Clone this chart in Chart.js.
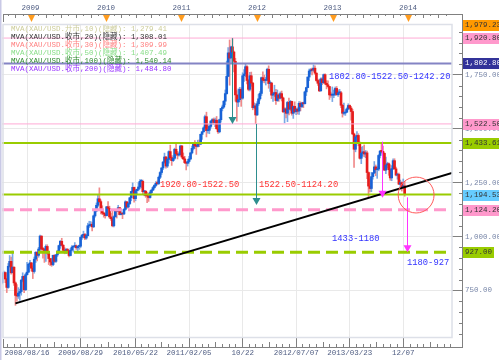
<!DOCTYPE html>
<html>
<head>
<meta charset="utf-8">
<script src="https://cdn.jsdelivr.net/npm/chart.js@4.4.0/dist/chart.umd.min.js"></script>
<style>
  html, body { margin: 0; padding: 0; background: #fff; }
  canvas { display: block; }
</style>
</head>
<body>
<canvas id="grafico" width="499" height="360"></canvas>
<script>
// XAU/USD weekly candles, bar 0 = week of 2008/08/16
var firstOpen = 786;
var closes = [
  828, 833, 803, 764, 862, 885, 832, 858, 785, 727, 724, 738, 745, 798, 815, 753, 823, 835, 872, 878,
  853, 838, 895, 927, 913, 942, 1002, 942, 940, 930, 954, 924, 898, 882, 870, 913, 885, 915, 928, 958, 978, 960, 936, 931, 940, 931, 912, 937, 951, 954, 957, 948, 954, 955, 996, 1006, 1009, 993, 1004, 1050, 1050, 1057, 1045, 1096, 1119, 1145, 1175, 1162, 1121, 1109, 1104, 1097,
  1138, 1131, 1091, 1083, 1050, 1092, 1119, 1118, 1134, 1102, 1107, 1105, 1126, 1161, 1137, 1153, 1180, 1209, 1228, 1176, 1213, 1219, 1230, 1256, 1256, 1208, 1210, 1190, 1188, 1181, 1204, 1215, 1227, 1237, 1247, 1246, 1275, 1297, 1318, 1345, 1369, 1327, 1358, 1394, 1366, 1352, 1363, 1405, 1384, 1378, 1380, 1420,
  1369, 1360, 1343, 1340, 1348, 1360, 1388, 1409, 1429, 1421, 1418, 1437, 1429, 1474, 1486, 1504, 1556, 1491, 1493, 1511, 1536, 1542, 1529, 1540, 1500, 1486, 1542, 1594, 1601, 1628, 1663, 1743, 1852, 1828, 1880, 1856, 1813, 1657, 1624, 1635, 1683, 1642, 1746, 1754, 1788, 1724, 1683, 1746, 1712, 1598, 1606, 1564,
  1616, 1639, 1664, 1737, 1725, 1724, 1725, 1776, 1710, 1712, 1656, 1662, 1668, 1631, 1657, 1642, 1663, 1643, 1579, 1592, 1572, 1622, 1591, 1627, 1572, 1604, 1579, 1591, 1582, 1618, 1603, 1620, 1616, 1671, 1691, 1740, 1768, 1773, 1772, 1781, 1758, 1724, 1711, 1676, 1731, 1714, 1751, 1711, 1704, 1696, 1657, 1656,
  1656, 1661, 1687, 1658, 1667, 1667, 1609, 1572, 1573, 1577, 1592, 1608, 1596, 1580, 1476, 1405, 1462, 1469, 1435, 1363, 1387, 1393, 1383, 1388, 1297, 1234, 1223, 1278, 1295, 1323, 1310, 1313, 1376, 1396, 1395, 1386, 1308, 1332, 1338, 1310, 1272, 1315, 1352, 1314, 1285, 1288, 1243, 1250, 1231, 1235, 1194.53
];
var highs = [
  835, 840, 836, 806, 875, 912, 905, 933, 860, 790, 777, 763, 756, 800, 832, 818, 830, 880, 874, 890,
  880, 864, 905, 930, 929, 950, 1007, 1004, 950, 945, 962, 962, 929, 898, 898, 914, 916, 917, 936, 960, 982, 992, 962, 948, 945, 945, 935, 945, 958, 955, 972, 961, 955, 960, 1000, 1010, 1025, 1015, 1010, 1062, 1071, 1070, 1066, 1100, 1119, 1156, 1196, 1226, 1170, 1143, 1113, 1110,
  1140, 1162, 1141, 1108, 1120, 1096, 1125, 1122, 1145, 1135, 1129, 1110, 1130, 1166, 1162, 1158, 1181, 1210, 1249, 1230, 1218, 1220, 1250, 1264, 1265, 1262, 1213, 1214, 1206, 1200, 1212, 1219, 1232, 1241, 1255, 1258, 1281, 1301, 1320, 1349, 1387, 1372, 1365, 1398, 1424, 1375, 1375, 1410, 1432, 1395, 1392, 1424,
  1423, 1388, 1372, 1345, 1358, 1372, 1390, 1420, 1437, 1445, 1435, 1447, 1448, 1476, 1487, 1509, 1564, 1577, 1522, 1515, 1538, 1547, 1550, 1549, 1557, 1510, 1545, 1595, 1610, 1630, 1680, 1814, 1877, 1912, 1884, 1920, 1860, 1827, 1677, 1685, 1692, 1690, 1760, 1774, 1802, 1793, 1730, 1762, 1763, 1715, 1620, 1616,
  1626, 1660, 1673, 1740, 1764, 1749, 1738, 1781, 1792, 1722, 1716, 1670, 1702, 1683, 1680, 1663, 1671, 1675, 1647, 1597, 1597, 1627, 1642, 1632, 1628, 1606, 1625, 1596, 1597, 1626, 1625, 1623, 1624, 1675, 1693, 1740, 1777, 1779, 1781, 1796, 1792, 1760, 1730, 1728, 1736, 1737, 1754, 1755, 1723, 1722, 1697, 1670,
  1694, 1680, 1694, 1696, 1681, 1683, 1674, 1613, 1619, 1588, 1597, 1616, 1611, 1604, 1590, 1480, 1469, 1487, 1477, 1439, 1415, 1418, 1425, 1399, 1397, 1300, 1267, 1298, 1298, 1348, 1332, 1324, 1380, 1400, 1434, 1420, 1389, 1369, 1345, 1342, 1333, 1329, 1361, 1361, 1322, 1294, 1294, 1262, 1254, 1267, 1256
];
var lows = [
  780, 816, 786, 740, 760, 858, 826, 832, 773, 681, 700, 713, 704, 728, 790, 740, 750, 821, 832, 860,
  840, 805, 830, 880, 887, 904, 935, 936, 900, 880, 885, 917, 870, 865, 862, 865, 880, 880, 908, 922, 945, 955, 931, 920, 920, 925, 905, 910, 935, 928, 950, 940, 933, 940, 948, 987, 995, 985, 987, 1003, 1042, 1047, 1026, 1042, 1090, 1115, 1138, 1158, 1105, 1102, 1090, 1085,
  1095, 1124, 1085, 1075, 1045, 1045, 1090, 1086, 1117, 1100, 1100, 1083, 1102, 1122, 1131, 1133, 1148, 1166, 1198, 1160, 1166, 1196, 1212, 1221, 1226, 1198, 1189, 1182, 1157, 1163, 1178, 1192, 1214, 1220, 1232, 1240, 1241, 1269, 1288, 1310, 1340, 1317, 1320, 1340, 1355, 1330, 1348, 1358, 1375, 1360, 1373, 1377,
  1363, 1357, 1338, 1309, 1327, 1340, 1356, 1383, 1402, 1408, 1381, 1415, 1417, 1426, 1451, 1484, 1500, 1462, 1479, 1477, 1503, 1521, 1520, 1510, 1498, 1478, 1481, 1531, 1583, 1596, 1611, 1660, 1742, 1702, 1805, 1812, 1764, 1628, 1535, 1603, 1625, 1604, 1637, 1720, 1741, 1708, 1676, 1675, 1697, 1588, 1594, 1523,
  1562, 1608, 1633, 1654, 1715, 1713, 1703, 1724, 1688, 1673, 1640, 1627, 1650, 1613, 1627, 1627, 1638, 1629, 1575, 1527, 1550, 1533, 1564, 1585, 1563, 1548, 1573, 1565, 1568, 1567, 1583, 1598, 1598, 1615, 1654, 1690, 1723, 1753, 1750, 1766, 1752, 1720, 1701, 1672, 1674, 1705, 1710, 1704, 1685, 1692, 1636, 1645,
  1626, 1644, 1654, 1655, 1650, 1660, 1598, 1554, 1564, 1562, 1575, 1588, 1590, 1540, 1473, 1321, 1393, 1441, 1421, 1359, 1338, 1373, 1370, 1366, 1268, 1180, 1207, 1208, 1266, 1292, 1282, 1270, 1305, 1365, 1390, 1376, 1306, 1292, 1318, 1284, 1261, 1259, 1310, 1312, 1281, 1266, 1241, 1221, 1211, 1225, 1187
];

// axis labels
var xTickWeeks = [17, 54, 92, 129, 166, 203, 240, 277];
var xTickLabels = ['2008/08/16', '2009/08/29', '2010/05/22', '2011/02/05', '10/22', '2012/07/07', '2013/03/23', '12/07'];
var yearLabels = ['2009', '2010', '2011', '2012', '2013', '2014'];
var yTicks = [750, 1000, 1250, 1500, 1750];

// drawn levels and notes
var levelPrice = [1920.80, 1802.80, 1522.50, 1433.61, 1194.53, 1124.20, 927.00];
var tagPrice = [1979.23, 1920.80, 1802.80, 1522.50, 1433.61, 1194.53, 1124.20, 927.00];
var trendWeek = [9, 310.7];
var trendPrice = [690, 1295];
var arrowWeek = [159, 175, 262, 279.6];
var arrowFrom = [1920, 1522.5, 1440, 1182];
var arrowTo = [1522.5, 1146, 1180, 927];
var ringWeek = 285.9, ringPrice = 1192.6, ringRadius = 12.4;
var noteText = ['1920.80-1522.50', '1522.50-1124.20', '1802.80-1522.50-1242.20', '1433-1180', '1180-927'];
var noteWeek = [108.9, 177.3, 225.7, 227.8, 279.6];
var notePrice = [1239, 1239, 1740, 988, 877];
var maLabels = [
  'MVA(XAU/USD.开市,10)(隐藏): 1,279.41',
  'MVA(XAU/USD.收市,20)(隐藏): 1,308.01',
  'MVA(XAU/USD.收市,30)(隐藏): 1,309.99',
  'MVA(XAU/USD.收市,50)(隐藏): 1,407.49',
  'MVA(XAU/USD.收市,100)(隐藏): 1,540.14',
  'MVA(XAU/USD.收市,200)(隐藏): 1,484.80'
];

// styles
var mono = '"Liberation Mono", "DejaVu Sans Mono", "Noto Sans CJK SC", monospace';
var levelColor = ['#ffaad5', '#8484c4', '#ffaad5', '#99cc00', '#99cc00', '#ff99cc', '#99cc00'];
var levelWidth = [1, 2, 1, 2, 2, 3, 3];
var levelDash = [[], [], [], [], [], [12, 6], [12, 6]];
var tagFill = ['#ff9900', '#ff99cc', '#333399', '#ff99cc', '#99cc00', '#66ccff', '#ff99cc', '#99cc00'];
var tagInk = ['#333', '#333', '#fff', '#333', '#333', '#333', '#333', '#333'];
var arrowColor = ['#2e8e8e', '#2e8e8e', '#ff33ff', '#ff33ff'];
var noteColor = ['#ff3333', '#ff3333', '#3333ff', '#3333ff', '#3333ff'];
var maColor = ['#cccc99', '#333333', '#ff8080', '#88dd88', '#2e8b2e', '#9933ff'];

var xMin = -0.3, xMax = 310.7, yMin = 534, yMax = 1986;
var firstWeek = Date.UTC(2008, 7, 18);
var yearWeeks = yearLabels.map(function (y) { return (Date.UTC(+y, 0, 1) - firstWeek) / 604800000; });

var opens = closes.map(function (c, i) { return i === 0 ? firstOpen : closes[i - 1]; });
var wickData = closes.map(function (c, i) { return { x: i, y: [lows[i], highs[i]] }; });
var bodyData = closes.map(function (c, i) { return { x: i, y: [opens[i], c] }; });
var wickColors = closes.map(function (c, i) { return c >= opens[i] ? '#7aa8e6' : '#f08a8a'; });
var bodyColors = closes.map(function (c, i) { return c >= opens[i] ? '#1862d6' : '#e51c1c'; });

var levelSets = levelPrice.map(function (v, k) {
  return {
    type: 'line', data: [{ x: xMin, y: v }, { x: xMax, y: v }],
    borderColor: levelColor[k], borderWidth: levelWidth[k], borderDash: levelDash[k],
    pointRadius: 0, order: 3
  };
});

var rulerPlugin = {
  id: 'rulers',
  afterDraw: function (chart) {
    var c = chart.ctx, a = chart.chartArea, sx = chart.scales.x, sy = chart.scales.y;
    var topY = a.top - 10, botY = a.bottom + 10, rightX = a.right + 10;
    c.save();
    c.fillStyle = '#c9c9e6';
    c.fillRect(0, 0, 1.5, chart.height);
    c.strokeStyle = '#dde0e8';
    c.lineWidth = 1.5;
    c.strokeRect(a.left + 1, a.top + 0.5, a.right - a.left - 1, a.bottom - a.top);

    c.strokeStyle = '#808080';
    c.lineWidth = 1;
    c.beginPath();
    c.moveTo(a.left + 1, topY + 0.5); c.lineTo(rightX + 1, topY + 0.5);
    c.moveTo(a.left + 1.5, topY); c.lineTo(a.left + 1.5, topY + 8);
    c.moveTo(a.left + 1, botY + 0.5); c.lineTo(rightX + 1, botY + 0.5);
    c.moveTo(a.left + 1.5, botY); c.lineTo(a.left + 1.5, botY - 8);
    c.moveTo(rightX + 0.5, topY); c.lineTo(rightX + 0.5, botY + 1);
    // top ruler: ten steps a year
    var st = (yearWeeks[1] - yearWeeks[0]) / 10, k, px;
    for (k = Math.ceil((xMin - yearWeeks[0]) / st); yearWeeks[0] + k * st <= xMax; k++) {
      px = Math.round(sx.getPixelForValue(yearWeeks[0] + k * st)) + 0.5;
      c.moveTo(px, topY); c.lineTo(px, topY + (k % 2 === 0 ? 4 : 2));
    }
    // bottom ruler: eight steps between labels
    var n = xTickWeeks.length;
    var sb = (xTickWeeks[n - 1] - xTickWeeks[0]) / (n - 1) / 8;
    for (k = Math.ceil((xMin - xTickWeeks[0]) / sb); xTickWeeks[0] + k * sb <= xMax; k++) {
      if (k % 8 === 0) continue;
      px = Math.round(sx.getPixelForValue(xTickWeeks[0] + k * sb)) + 0.5;
      c.moveTo(px, botY); c.lineTo(px, botY - (k % 4 === 0 ? 5 : 3));
    }
    // right ruler: every 50
    for (var v = Math.ceil(yMin / 50) * 50; v <= yMax; v += 50) {
      if (v % 250 === 0) continue;
      var py = Math.round(sy.getPixelForValue(v)) + 0.5;
      c.moveTo(rightX - 3, py); c.lineTo(rightX, py);
    }
    c.stroke();
    // year markers
    c.fillStyle = '#ff9c1f';
    yearWeeks.forEach(function (w) {
      var p = Math.round(sx.getPixelForValue(w)) + 0.5;
      c.beginPath();
      c.moveTo(p - 3.5, topY + 1); c.lineTo(p + 3.5, topY + 1); c.lineTo(p, topY + 8);
      c.closePath(); c.fill();
    });
    // price tags on the right
    c.font = '7.5px ' + mono;
    c.textBaseline = 'middle';
    c.textAlign = 'left';
    tagPrice.forEach(function (v, k) {
      var y = sy.getPixelForValue(v);
      var t = v.toLocaleString('en-US', { minimumFractionDigits: 2, maximumFractionDigits: 2 });
      var w = c.measureText(t).width + 4;
      c.fillStyle = tagFill[k];
      c.fillRect(rightX + 1, Math.round(y) - 5, w, 11);
      c.fillStyle = tagInk[k];
      c.fillText(t, rightX + 3, Math.round(y) + 0.5);
    });
    c.restore();
  }
};

var notesPlugin = {
  id: 'notes',
  afterDatasetsDraw: function (chart) {
    var c = chart.ctx, a = chart.chartArea, sx = chart.scales.x, sy = chart.scales.y;
    c.save();
    // arrows
    arrowWeek.forEach(function (w, k) {
      var px = Math.round(sx.getPixelForValue(w)) + 0.5;
      var y0 = sy.getPixelForValue(arrowFrom[k]), y1 = sy.getPixelForValue(arrowTo[k]);
      c.strokeStyle = arrowColor[k];
      c.fillStyle = arrowColor[k];
      c.lineWidth = 1;
      c.beginPath(); c.moveTo(px, y0); c.lineTo(px, y1 - 6); c.stroke();
      c.beginPath(); c.moveTo(px - 4, y1 - 7); c.lineTo(px + 4, y1 - 7); c.lineTo(px, y1); c.closePath(); c.fill();
    });
    // ring
    var rx = sx.getPixelForValue(ringWeek), ry = sy.getPixelForValue(ringPrice);
    var rr = sx.getPixelForValue(ringWeek + ringRadius) - rx;
    c.strokeStyle = '#ff5a5a';
    c.beginPath(); c.arc(rx, ry, rr, 0, Math.PI * 2); c.stroke();
    // notes
    c.font = '8.8px ' + mono;
    c.textBaseline = 'middle';
    noteText.forEach(function (t, k) {
      c.fillStyle = noteColor[k];
      c.fillText(t, sx.getPixelForValue(noteWeek[k]), sy.getPixelForValue(notePrice[k]));
    });
    // MVA legend
    c.font = '7.5px ' + mono;
    maLabels.forEach(function (t, k) {
      c.fillStyle = maColor[k];
      c.fillText(t, a.left + 9, a.top + 5.5 + k * 8);
    });
    c.restore();
  }
};

var ctx = document.getElementById('grafico').getContext('2d');
var grafico = new Chart(ctx, {
  type: 'bar',
  data: {
    datasets: [
      { label: 'sombras', data: wickData, backgroundColor: wickColors, barThickness: 1, grouped: false, order: 10 },
      { label: 'cuerpos', data: bodyData, backgroundColor: bodyColors, barThickness: 2, grouped: false, minBarLength: 1, order: 9 }
    ].concat(levelSets, [{
      type: 'line', label: 'tendencia',
      data: trendWeek.map(function (w, k) { return { x: w, y: trendPrice[k] }; }),
      borderColor: '#000', borderWidth: 2, pointRadius: 0, order: 1
    }])
  },
  options: {
    responsive: false,
    devicePixelRatio: 1,
    animation: false,
    events: [],
    layout: { padding: { left: 2, right: 0, top: 0, bottom: 0 }, autoPadding: false },
    plugins: { legend: { display: false }, tooltip: { enabled: false } },
    scales: {
      x: {
        type: 'linear', position: 'bottom', min: xMin, max: xMax, offset: false,
        afterBuildTicks: function (s) { s.ticks = xTickWeeks.map(function (v) { return { value: v }; }); },
        afterFit: function (s) { s.height = 23; },
        grid: { offset: false, color: '#e9e9e9', tickColor: '#808080', tickLength: 10 },
        border: { display: false },
        ticks: {
          autoSkip: false, maxRotation: 0, padding: 2, color: '#4f5d82',
          font: { family: mono, size: 7.5 },
          callback: function (v, i) { return xTickLabels[i]; }
        }
      },
      xTop: {
        type: 'linear', position: 'top', min: xMin, max: xMax, offset: false,
        afterBuildTicks: function (s) { s.ticks = yearWeeks.map(function (v) { return { value: v }; }); },
        afterFit: function (s) { s.height = 24; },
        grid: { display: false, drawTicks: false },
        border: { display: false },
        ticks: {
          autoSkip: false, maxRotation: 0, padding: 11, color: '#4f5d82',
          font: { family: mono, size: 7.5 },
          callback: function (v, i) { return yearLabels[i]; }
        }
      },
      y: {
        position: 'right', min: yMin, max: yMax,
        afterBuildTicks: function (s) { s.ticks = yTicks.map(function (v) { return { value: v }; }); },
        afterFit: function (s) { s.width = 47; },
        grid: { color: '#e9e9e9', tickColor: '#808080', tickLength: 10 },
        border: { display: false },
        ticks: {
          padding: 3, color: '#7886a8',
          font: { family: mono, size: 7.5 },
          callback: function (v) { return v.toLocaleString('en-US', { minimumFractionDigits: 2, maximumFractionDigits: 2 }); }
        }
      }
    }
  },
  plugins: [notesPlugin, rulerPlugin]
});
</script>
</body>
</html>
